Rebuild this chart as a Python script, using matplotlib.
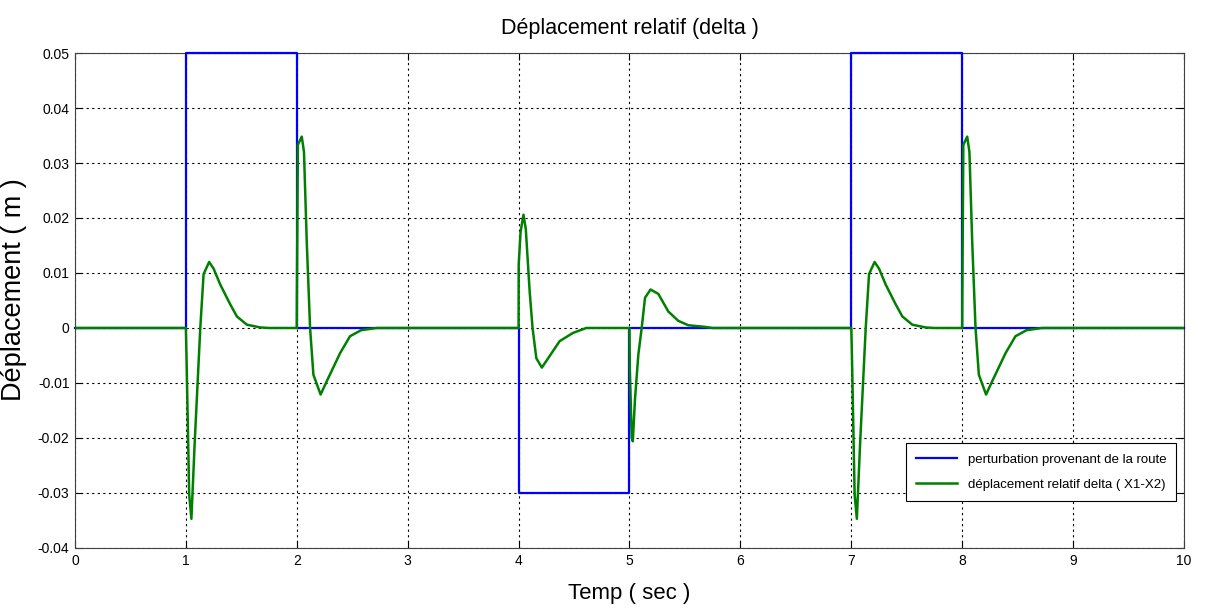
import numpy as np
import matplotlib
matplotlib.use("Agg")
from matplotlib import pyplot as plt

plt.rcParams['font.family'] = ['Liberation Sans', 'DejaVu Sans']

# road disturbance (step profile)
t_route = [0, 1, 1, 2, 2, 4, 4, 5, 5, 7, 7, 8, 8, 10]
route = [0, 0, 0.05, 0.05, 0, 0, -0.03, -0.03, 0, 0, 0.05, 0.05, 0, 0]

# relative displacement delta (X1-X2)
t_delta = [0.0, 1.0, 1.005, 1.03, 1.05, 1.08, 1.13, 1.16, 1.21, 1.25, 1.31, 1.40, 1.46, 1.55, 1.67, 1.75,
           2.0, 2.001, 2.01, 2.045, 2.065, 2.09, 2.12, 2.15, 2.215, 2.27, 2.39, 2.48, 2.58, 2.72,
           4.0, 4.001, 4.018, 4.044, 4.065, 4.10, 4.126, 4.16, 4.21, 4.25, 4.37, 4.49, 4.61,
           5.0, 5.003, 5.02, 5.03, 5.05, 5.08, 5.11, 5.14, 5.19, 5.26, 5.35, 5.44, 5.53, 5.68, 5.75,
           7.0, 7.005, 7.03, 7.05, 7.08, 7.13, 7.16, 7.21, 7.25, 7.31, 7.40, 7.46, 7.55, 7.67, 7.75,
           8.0, 8.001, 8.01, 8.045, 8.065, 8.09, 8.12, 8.15, 8.215, 8.27, 8.39, 8.48, 8.58, 8.72,
           10.0]
delta = [0.0, 0.0, -0.0044, -0.0303, -0.0347, -0.0207, 0.0, 0.0098, 0.0120, 0.0108, 0.0079, 0.0043, 0.0021, 0.0006, 0.0001, 0.0,
         0.0, 0.0055, 0.0333, 0.0348, 0.0320, 0.0157, 0.0, -0.0085, -0.0121, -0.0097, -0.0046, -0.0015, -0.0004, 0.0,
         0.0, 0.0115, 0.0175, 0.0206, 0.0180, 0.0066, 0.0, -0.0055, -0.0072, -0.0060, -0.0024, -0.0009, 0.0,
         0.0, -0.0073, -0.0200, -0.0206, -0.0128, -0.0048, 0.0, 0.0055, 0.0070, 0.0062, 0.0030, 0.0013, 0.0005, 0.0002, 0.0,
         0.0, -0.0044, -0.0303, -0.0347, -0.0207, 0.0, 0.0098, 0.0120, 0.0108, 0.0079, 0.0043, 0.0021, 0.0006, 0.0001, 0.0,
         0.0, 0.0055, 0.0333, 0.0348, 0.0320, 0.0157, 0.0, -0.0085, -0.0121, -0.0097, -0.0046, -0.0015, -0.0004, 0.0,
         0.0]

fig = plt.figure(figsize=(12.05, 6.15), dpi=100)
ax = fig.add_axes([0.0622, 0.109, 0.9204, 0.8048])

ax.plot(t_route, route, color='#0000ff', lw=1.6, clip_on=False, zorder=3,
        label='perturbation provenant de la route')
ax.plot(t_delta, delta, color='#008000', lw=1.8, zorder=4,
        label='déplacement relatif delta ( X1-X2)')

ax.set_xlim(0, 10)
ax.set_ylim(-0.04, 0.05)
ax.set_xticks(np.arange(0, 11, 1))
ax.set_yticks(np.arange(-0.04, 0.051, 0.01))
ax.set_xticklabels([str(i) for i in range(11)])
ax.set_yticklabels(['-0.04', '-0.03', '-0.02', '-0.01', '0', '0.01', '0.02', '0.03', '0.04', '0.05'])
ax.tick_params(direction='in', top=True, right=True, length=5, labelsize=10, pad=4)
ax.grid(True, color='black', linestyle=(0, (2, 3)), linewidth=0.8)
for s in ax.spines.values():
    s.set_color('#404040')

ax.set_title('Déplacement relatif (delta )', fontsize=15.5, pad=14)
ax.set_xlabel('Temp ( sec )', fontsize=16, labelpad=11)
ax.set_ylabel('Déplacement ( m )', fontsize=19.5)
ax.yaxis.set_label_coords(-0.043, 0.522)

leg = ax.legend(loc='lower right', bbox_to_anchor=(0.993, 0.095), fontsize=9.5,
                fancybox=False, framealpha=1, edgecolor='black', handlelength=3.1,
                borderaxespad=0, labelspacing=1.0, borderpad=0.75)
leg.get_frame().set_linewidth(0.8)

fig.savefig('out.png', dpi=100)
